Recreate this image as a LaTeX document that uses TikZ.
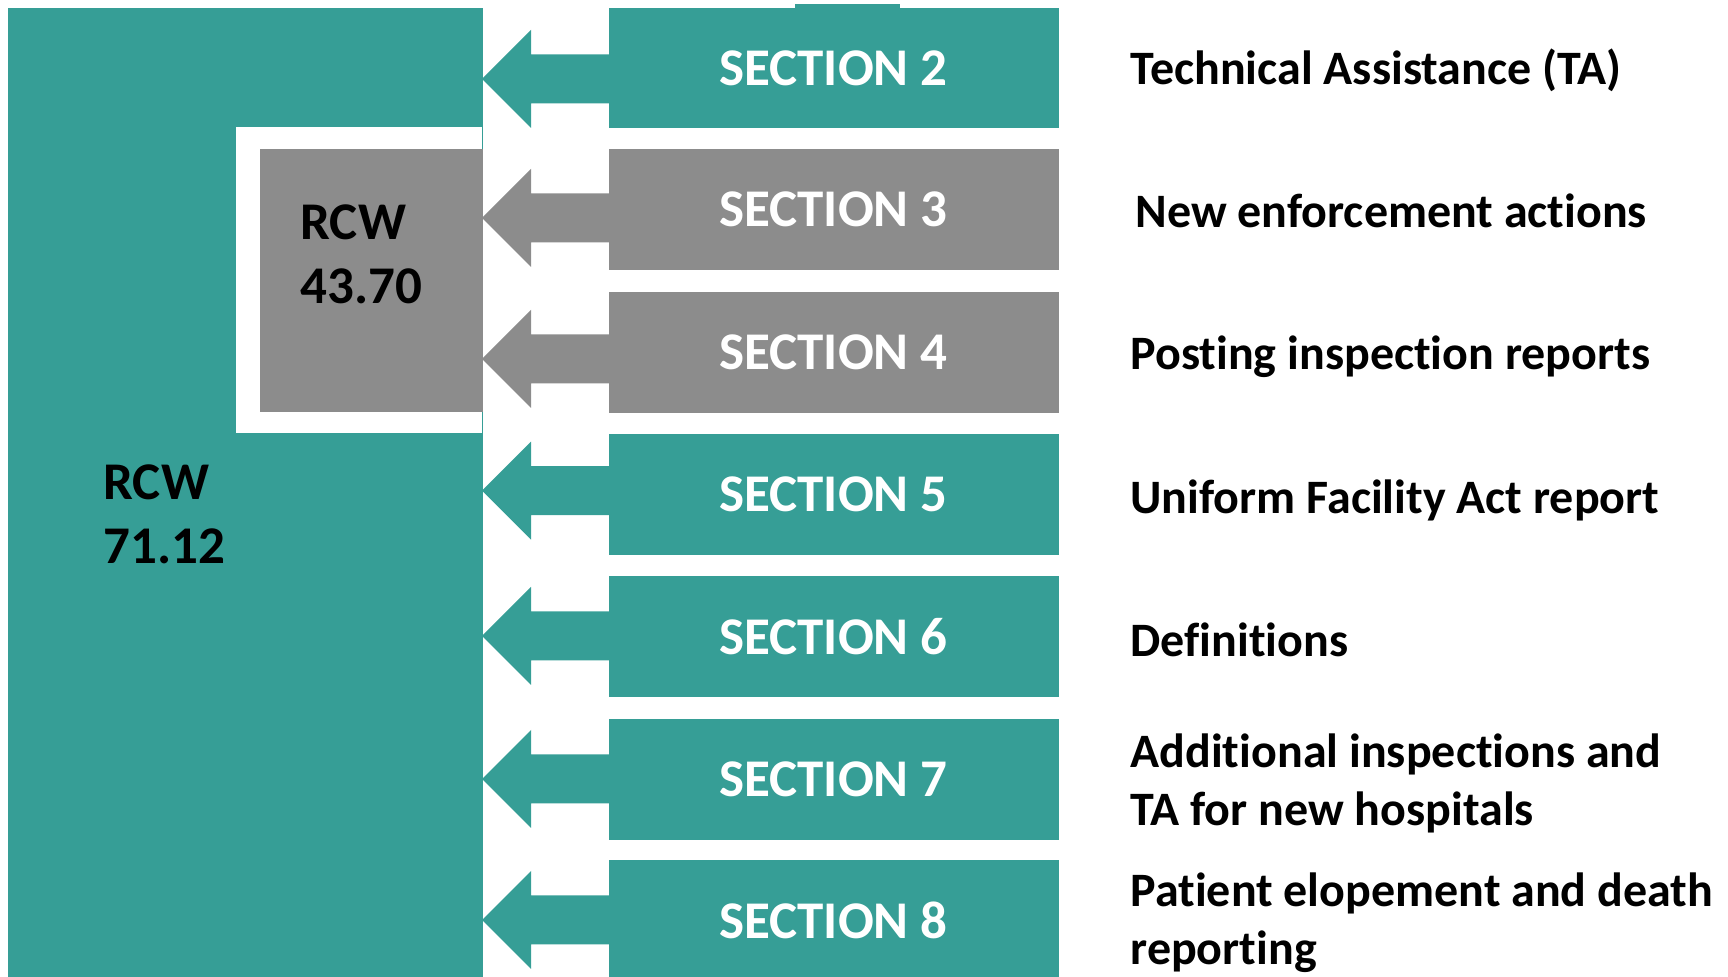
\documentclass[tikz,border=0pt]{standalone}
\usepackage{fontspec}
\setmainfont{Carlito}[Ligatures=NoCommon]
\usetikzlibrary{calc}
\definecolor{tealA}{RGB}{54,158,150}
\definecolor{grayA}{RGB}{140,140,140}
\begin{document}
\begin{tikzpicture}[x=0.4pt,y=-0.4pt,
  secbox/.style={fill=#1, draw=none, inner sep=0pt, anchor=north west,
    minimum width=180pt, minimum height=48.2pt, text=white,
    font=\bfseries\fontsize{21.2pt}{25.6pt}\selectfont},
  rcwtext/.style={anchor=base west, inner sep=0pt, align=left, text=black,
    font=\bfseries\fontsize{21.2pt}{25.6pt}\selectfont},
  desc/.style={anchor=base west, inner sep=0pt, align=left, text=black,
    font=\bfseries\fontsize{19.2pt}{23.2pt}\selectfont},
  arrowfill/.style={fill=#1, draw=none}
]
\useasboundingbox (0,0) rectangle (1728,977);
\clip (0,0) rectangle (1728,977);
% big RCW 71.12 block
\node[fill=tealA, draw=none, inner sep=0pt, anchor=north west,
  minimum width=190pt, minimum height=388pt] (big) at (7,7.3) {};
% white frame and grey RCW 43.70 block
\fill[white] (236,126.7) rectangle (482,433);
\node[fill=grayA, draw=none, inner sep=0pt, anchor=north west,
  minimum width=89.2pt, minimum height=105.1pt] (small) at (259,149) {};
% small tab above section 2
\fill[tealA] (795,4.3) rectangle (900,9);
% section boxes
\node[secbox=tealA] (s2) at (608,7.3) {SECTION 2};
\node[secbox=grayA] (s3) at (608,149) {SECTION 3};
\node[secbox=grayA] (s4) at (608,292) {SECTION 4};
\node[secbox=tealA] (s5) at (608,434) {SECTION 5};
\node[secbox=tealA] (s6) at (608,575.7) {SECTION 6};
\node[secbox=tealA] (s7) at (608,719) {SECTION 7};
\node[secbox=tealA] (s8) at (608,860) {SECTION 8};
% arrow tips on the big block
\coordinate (t2) at (482,79);
\coordinate (t3) at (482,218);
\coordinate (t4) at (482,359);
\coordinate (t5) at (482,490.7);
\coordinate (t6) at (482,636);
\coordinate (t7) at (482,779);
\coordinate (t8) at (482,920);
\foreach \t/\c in {t2/tealA,t3/grayA,t4/grayA,t5/tealA,t6/tealA,t7/tealA,t8/tealA}{
  \path[arrowfill=\c] (\t) -- ++(49,-49) -- ++(0,24.5) -- ++(78,0) -- ++(0,49)
    -- ++(-78,0) -- ++(0,24.5) -- cycle;
}
% RCW labels (anchor = baseline of last line)
\node[rcwtext] (rcw43) at (300,304) {RCW\\43.70};
\node[rcwtext] (rcw71) at (103,564) {RCW\\71.12};
% descriptions
\node[desc] (d2) at (1130,85) {Technical Assistance (TA)};
\node[desc] (d3) at (1135,228) {New enforcement actions};
\node[desc] (d4) at (1130,370) {Posting inspection reports};
\node[desc] (d5) at (1130,514) {Uniform Facility Act report};
\node[desc] (d6) at (1130,657) {Definitions};
\node[desc] (d7) at (1130,826) {Additional inspections and\\TA for new hospitals};
\node[desc] (d8) at (1130,965) {Patient elopement and death\\reporting};
\end{tikzpicture}
\end{document}
